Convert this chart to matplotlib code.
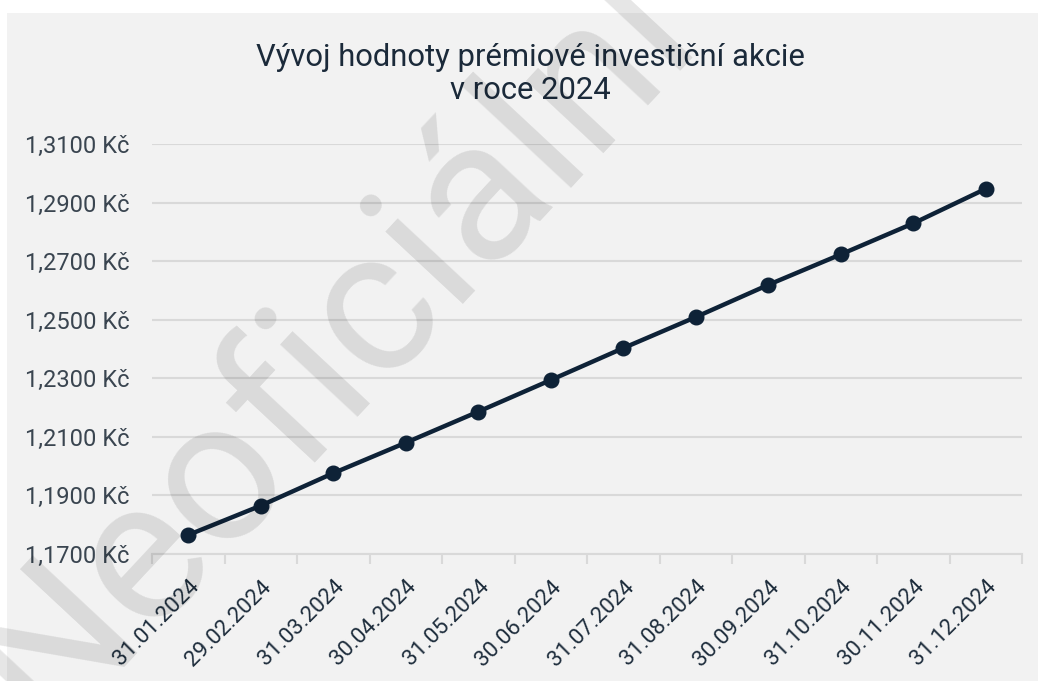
import matplotlib
matplotlib.use("Agg")
import matplotlib.pyplot as plt
from matplotlib.patches import Rectangle
from matplotlib.ticker import FuncFormatter, FixedLocator

dates = ["31.01.2024", "29.02.2024", "31.03.2024", "30.04.2024", "31.05.2024", "30.06.2024",
         "31.07.2024", "31.08.2024", "30.09.2024", "31.10.2024", "30.11.2024", "31.12.2024"]
values = [1.1765, 1.1865, 1.1976, 1.2080, 1.2186, 1.2294,
          1.2403, 1.2509, 1.2619, 1.2723, 1.2829, 1.2947]
y_ticks = [1.17, 1.19, 1.21, 1.23, 1.25, 1.27, 1.29, 1.31]
title = "Vývoj hodnoty prémiové investiční akcie\nv roce 2024"
watermark = "Neoficiální"

plt.rcParams['font.family'] = ['Roboto', 'DejaVu Sans']

W, H = 1038, 681
fig = plt.figure(figsize=(W / 100, H / 100), dpi=100)
fig.patch.set_facecolor('white')
bg = Rectangle((7 / W, 0), 1 - 7 / W, 1 - 13 / H, transform=fig.transFigure,
               facecolor='#f2f2f2', edgecolor='none', zorder=-5)
fig.add_artist(bg)

ax = fig.add_axes([152 / W, 1 - 554 / H, (1022 - 152) / W, (554 - 144) / H])
ax.set_facecolor('none')
ax.set_zorder(1)

x = list(range(len(dates)))
ax.plot(x, values, color='#0e2237', lw=3.2, marker='o', markersize=10.5, zorder=3,
        solid_capstyle='round')

ax.set_xlim(-0.5, len(dates) - 0.5)
ax.set_ylim(y_ticks[0], y_ticks[-1])
ax.set_yticks(y_ticks)
ax.yaxis.set_major_formatter(FuncFormatter(lambda v, p: f"{v:.4f}".replace('.', ',') + " Kč"))
ax.grid(axis='y', color='#d9d9d9', lw=1.5, zorder=1)
ax.set_axisbelow(True)

ax.set_xticks(x)
ax.set_xticklabels(dates, rotation=45, ha='right', rotation_mode='anchor')
ax.xaxis.set_minor_locator(FixedLocator([i - 0.5 for i in range(len(dates) + 1)]))
ax.tick_params(axis='x', which='major', length=0, pad=16, labelsize=16, labelcolor='#1f2e3d')
ax.tick_params(axis='x', which='minor', length=7, width=1.5, color='#d9d9d9')
ax.tick_params(axis='y', length=0, pad=16, labelsize=17, labelcolor='#3a4550')
for lbl in ax.get_xticklabels():
    lbl.set_x(lbl.get_position()[0])

for s in ['top', 'right', 'left']:
    ax.spines[s].set_visible(False)
ax.spines['bottom'].set_color('#d9d9d9')
ax.spines['bottom'].set_linewidth(1.5)

fig.text(530 / W, 1 - 74 / H, title, ha='center', va='center', fontsize=22.3,
         color='#1b2a3a', linespacing=1.15)

fig.text(332 / W, 1 - 346 / H, watermark, ha='center', va='center', rotation=47,
         rotation_mode='anchor', fontsize=145, color='black',
         alpha=0.1, zorder=10)

fig.savefig('out.png', dpi=100, facecolor='white')
